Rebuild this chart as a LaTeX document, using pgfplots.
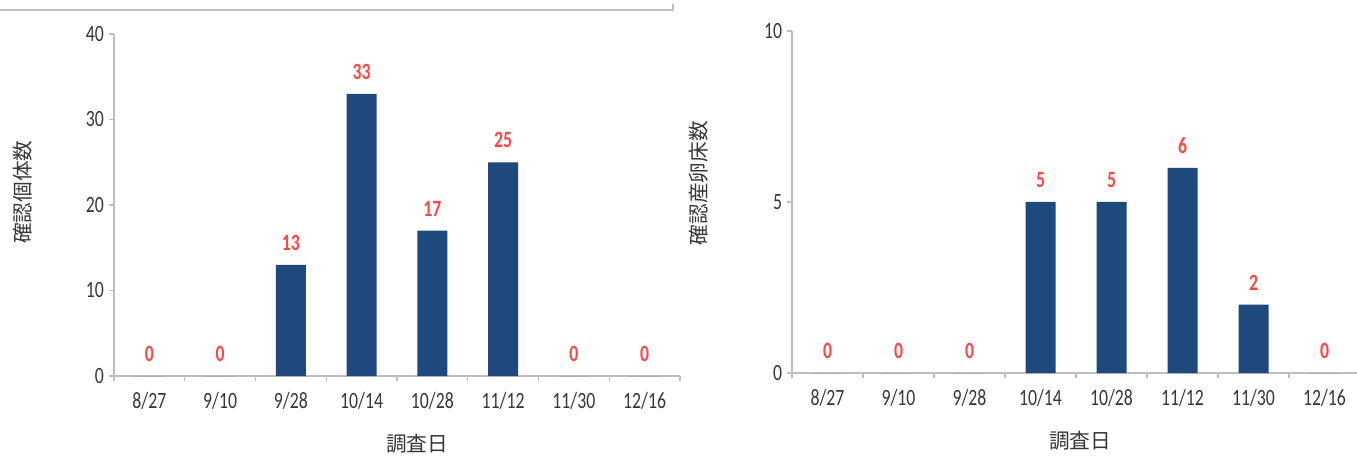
\documentclass[border=0pt]{standalone}
\usepackage{pgfplots}
\pgfplotsset{compat=1.18}
\usepackage{fontspec}
\setmainfont{Carlito}[FakeStretch=0.76]
\newfontfamily\jp{Noto Sans CJK JP}
\definecolor{barblue}{RGB}{31,73,125}
\definecolor{lblred}{RGB}{255,70,70}
\definecolor{axgray}{RGB}{190,190,190}
\definecolor{txtgray}{RGB}{55,55,55}
\pgfplotsset{
  mystyle/.style={
    scale only axis, anchor=south west,
    axis x line=bottom, axis y line=left,
    axis line style={-, draw=axgray, line width=0.9bp},
    ybar, bar width=22.5bp,
    xmin=-0.5, ymin=0,
    xtick={0,...,7},
    xticklabels={8/27,9/10,9/28,10/14,10/28,11/12,11/30,12/16},
    major x tick style={draw=none},
    minor xtick={-0.5,0.5,...,7.5},
    minor tick length=4bp,
    major tick length=4bp,
    tick align=outside,
    every tick/.style={draw=axgray, line width=0.9bp},
    /pgf/number format/assume math mode=true,
    ticklabel style={font=\fontsize{17.5bp}{20bp}\selectfont, text=txtgray},
    xticklabel style={yshift=-5bp},
    nodes near coords,
    every node near coord/.append style={font=\fontsize{17.5bp}{20bp}\selectfont\bfseries, text=lblred, inner sep=0pt, anchor=south, yshift=10.5bp},
  }
}
\begin{document}
\begin{tikzpicture}[x=0.75bp,y=0.75bp]
\path[use as bounding box] (0,0) rectangle (1357,457);
\draw[axgray, line width=0.9bp] (0,447) -- (673,447) -- (673,453);
\begin{axis}[mystyle, at={(85.5bp,60.75bp)}, width=424.5bp, height=256.5bp,
  xmax=7.5, ymax=40, ytick={0,10,20,30,40}]
\addplot[fill=barblue, draw=none] coordinates {(0,0) (1,0) (2,13) (3,33) (4,17) (5,25) (6,0) (7,0)};
\end{axis}
\begin{axis}[mystyle, at={(594bp,63bp)}, width=423.75bp, height=256.5bp,
  xmax=7.458, ymax=10, ytick={0,5,10}]
\addplot[fill=barblue, draw=none] coordinates {(0,0) (1,0) (2,0) (3,5) (4,5) (5,6) (6,2) (7,0)};
\end{axis}
\node[rotate=90, font=\jp\fontsize{15.5bp}{18bp}\selectfont, text=txtgray] at (23,265) {確認個体数};
\node[rotate=90, font=\jp\fontsize{15.5bp}{18bp}\selectfont, text=txtgray] at (699,274) {確認産卵床数};
\node[font=\jp\fontsize{15.5bp}{18bp}\selectfont, text=txtgray] at (417,13) {調査日};
\node[font=\jp\fontsize{15.5bp}{18bp}\selectfont, text=txtgray] at (1080,16) {調査日};
\end{tikzpicture}
\end{document}
